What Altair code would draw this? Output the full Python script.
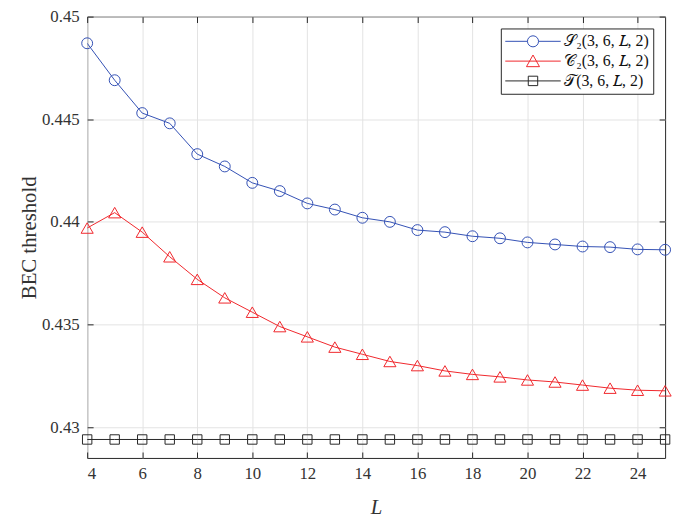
import altair as alt
import pandas as pd

# ---------------- data ----------------
L_values = list(range(4, 26))
S2_values = [0.4487, 0.4469, 0.4453, 0.4448, 0.4433, 0.4427, 0.4419, 0.4415,
             0.4409, 0.4406, 0.4402, 0.4400, 0.4396, 0.4395, 0.4393, 0.4392,
             0.4390, 0.4389, 0.4388, 0.43877, 0.43866, 0.43864]
C2_values = [0.4397, 0.44045, 0.4395, 0.4383, 0.4372, 0.4363, 0.4356, 0.4349,
             0.4344, 0.4339, 0.43355, 0.4332, 0.4330, 0.43274, 0.43257, 0.43245,
             0.4323, 0.4322, 0.43205, 0.4319, 0.4318, 0.43177]
T_values = [0.4294] * 22

series_keys = ["S", "C", "T"]
series_labels = ["𝒮₂(3, 6, 𝐿, 2)", "𝒞₂(3, 6, 𝐿, 2)", "𝒯(3, 6, 𝐿, 2)"]
series_colors = ["#3350b4", "#f0262c", "#262626"]
series_shapes = ["circle", "triangle-up", "square"]
series_sizes = [121, 150, 90]

x_ticks = list(range(4, 25, 2))
y_ticks = [0.43, 0.435, 0.44, 0.445, 0.45]

rows = []
for key, vals in zip(series_keys, [S2_values, C2_values, T_values]):
    for l, v in zip(L_values, vals):
        rows.append({"L": l, "value": v, "series": key})
df = pd.DataFrame(rows)

# ---------------- style ----------------
FONT = "Liberation Serif"
AX = "#262626"
GRID = "#e3e3e3"

xs = alt.Scale(domain=[4, 25], nice=False, zero=False)
ys = alt.Scale(domain=[0.4285, 0.45], nice=False, zero=False)
cs = alt.Scale(domain=series_keys, range=series_colors)

# legend symbols: a line with the marker in its centre (unit = 28 px)
p_circle = "M-1,0H-0.2M0.2,0H1M0.2,0A0.2,0.2,0,1,1,-0.2,0A0.2,0.2,0,1,1,0.2,0"
p_tri = "M-1,0H1M0,-0.22L0.235,0.2L-0.235,0.2Z"
p_sq = "M-1,0H1M-0.17,-0.17H0.17V0.17H-0.17Z"
shape_signal = (
    f"datum.value === 'S' ? '{p_circle}' : datum.value === 'C' ? '{p_tri}' : '{p_sq}'"
)
label_expr = (
    f"datum.value === 'S' ? '{series_labels[0]}' : datum.value === 'C' ? "
    f"'{series_labels[1]}' : '{series_labels[2]}'"
)

legend = alt.Legend(
    title=None, orient="top-right", offset=12, padding=4,
    strokeColor=AX, fillColor="white", cornerRadius=0,
    symbolType=alt.ExprRef(expr=shape_signal),
    symbolSize=3136, symbolStrokeWidth=1, symbolFillColor="transparent",
    clipHeight=18, rowPadding=2,
    labelFont=FONT, labelFontSize=16, labelColor="#111111", labelOffset=3,
    labelExpr=label_expr,
)

x_bottom = alt.Axis(orient="bottom", offset=-6, values=x_ticks, tickSize=6,
                    tickColor=AX, domain=False, grid=True, gridColor=GRID,
                    labelFont=FONT, labelFontSize=17, labelColor="#333333",
                    labelPadding=8, title="L", titleFont=FONT, titleFontSize=21,
                    titleFontStyle="italic", titleFontWeight="normal",
                    titleColor="#333333", titlePadding=15)
y_left = alt.Axis(orient="left", offset=-6, values=y_ticks, format=".3~f",
                  tickSize=6, tickColor=AX, domain=False, grid=True,
                  gridColor=GRID, labelFont=FONT, labelFontSize=17,
                  labelColor="#333333", labelPadding=8, title="BEC threshold",
                  titleFont=FONT, titleFontSize=21, titleFontWeight="normal",
                  titleColor="#333333", titlePadding=2)
x_top = alt.Axis(orient="top", offset=-6, values=x_ticks, tickSize=6,
                 tickColor=AX, domain=False, grid=False, labels=False, title=None)
y_right = alt.Axis(orient="right", offset=-6, values=y_ticks, tickSize=6,
                   tickColor=AX, domain=False, grid=False, labels=False, title=None)

base = alt.Chart(df)

lines = base.mark_line(strokeWidth=1, clip=True).encode(
    x=alt.X("L:Q", scale=xs, axis=x_bottom),
    y=alt.Y("value:Q", scale=ys, axis=y_left),
    color=alt.Color("series:N", scale=cs, legend=legend, sort=series_keys),
    order="L:Q",
)

point_layers = []
for i, (key, shp, sz) in enumerate(zip(series_keys, series_shapes, series_sizes)):
    ax_x = x_top if i == 0 else None
    ax_y = y_right if i == 0 else None
    pl = base.transform_filter(alt.datum.series == key).mark_point(
        filled=False, strokeWidth=1, opacity=1, shape=shp, size=sz
    ).encode(
        x=alt.X("L:Q", scale=xs, axis=ax_x),
        y=alt.Y("value:Q", scale=ys, axis=ax_y),
        color=alt.Color("series:N", scale=cs, legend=None),
    )
    point_layers.append(pl)

chart = (
    alt.layer(lines, *point_layers)
    .resolve_axis(x="independent", y="independent")
    .properties(width=584, height=446,
                autosize=alt.AutoSizeParams(type="none"),
                padding={"left": 80, "top": 6, "right": 10, "bottom": 58},
                background="white")
    .configure_view(stroke=AX, strokeWidth=1)
)

chart.save("out.html", embed_options={"renderer": "svg", "actions": False})
